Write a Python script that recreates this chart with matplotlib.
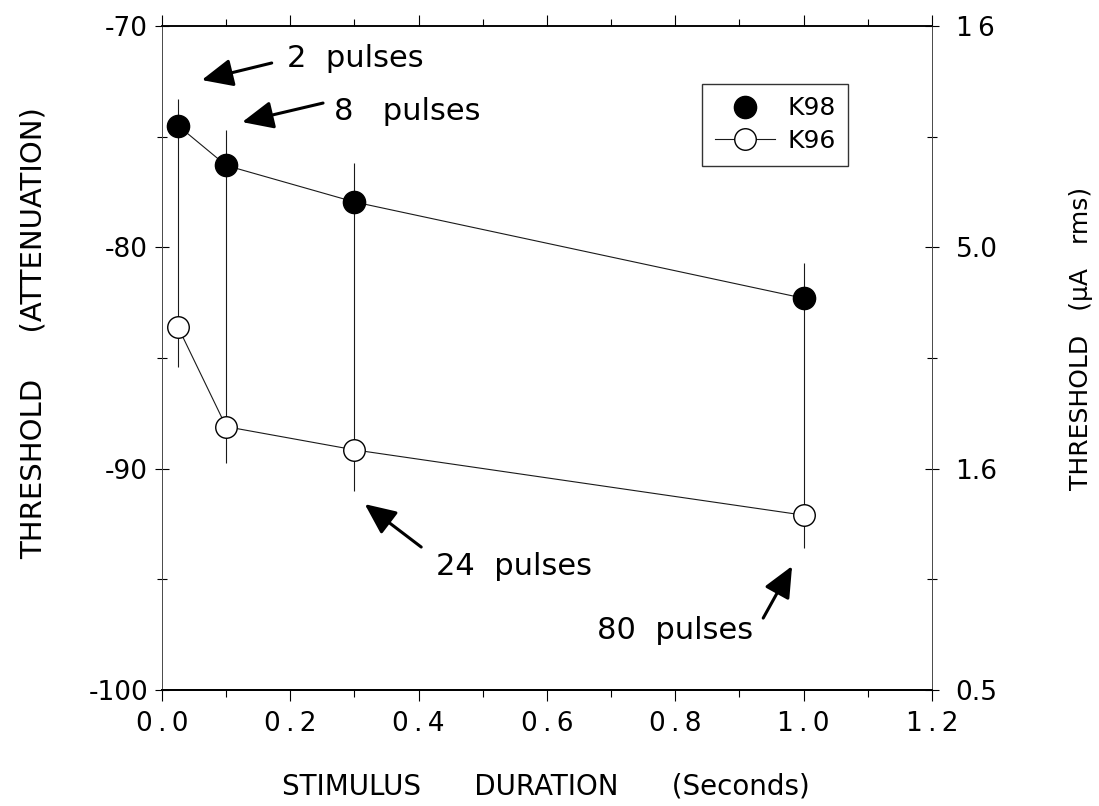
import numpy as np
import matplotlib
matplotlib.use('Agg')
import matplotlib.pyplot as plt
from matplotlib import rcParams
from matplotlib.lines import Line2D
from matplotlib.ticker import MultipleLocator

rcParams['font.family'] = ['DejaVu Sans']
rcParams['font.size'] = 19
rcParams['axes.unicode_minus'] = False

# data
duration = [0.025, 0.1, 0.3, 1.0]
k98 = [-74.5, -76.3, -77.95, -82.3]
k96 = [-83.6, -88.1, -89.15, -92.1]
bar_top = [-73.3, -74.7, -76.2, -80.7]
bar_bottom = [-85.4, -89.75, -91.0, -93.6]

left_ticks = [-100, -90, -80, -70]
right_labels = ['0.5', '1.6', '5.0', '1\u20096']
x_ticks = [0.0, 0.2, 0.4, 0.6, 0.8, 1.0, 1.2]
x_labels = ['0\u2009.\u20090', '0\u2009.\u20092', '0\u2009.\u20094', '0\u2009.\u20096',
            '0\u2009.\u20098', '1\u2009.\u20090', '1\u2009.\u20092']

pulse_labels = ['2  pulses', '8   pulses', '24  pulses', '80  pulses']
label_xy = [(0.301, -71.45), (0.383, -73.84), (0.549, -94.4), (0.799, -97.3)]
arrow_tail = [(0.171, -71.67), (0.251, -73.48), (0.404, -93.54), (0.937, -96.75)]
arrow_head = [(0.062, -72.44), (0.125, -74.34), (0.316, -91.6), (0.982, -94.4)]

fig = plt.figure(figsize=(10.99, 8.06), dpi=100)
ax = fig.add_axes([0.1474, 0.1439, 0.7006, 0.8238])

lw = 0.8
ink = '#1a1a1a'
ax.vlines(duration, bar_bottom, bar_top, color=ink, lw=lw)
ax.plot(duration, k98, '-o', color=ink, lw=lw, ms=16,
        mfc='black', mec='black', zorder=3)
ax.plot(duration, k96, '-o', color=ink, lw=lw, ms=15.5,
        mfc='white', mec='black', mew=1.0, zorder=3)

ax.set_xlim(0, 1.2)
ax.set_ylim(-100, -70)
ax.set_xticks(x_ticks)
ax.set_xticklabels(x_labels)
ax.xaxis.set_minor_locator(MultipleLocator(0.1))
ax.set_yticks(left_ticks)
ax.yaxis.set_minor_locator(MultipleLocator(5))
ax.tick_params(axis='x', which='both', direction='out', width=lw, top=True)
ax.tick_params(axis='x', which='major', length=8, pad=7)
ax.tick_params(axis='x', which='minor', length=5)
ax.tick_params(axis='y', which='both', direction='inout', width=lw)
ax.tick_params(axis='y', which='major', length=10, pad=5)
ax.tick_params(axis='y', which='minor', length=7)

ax2 = ax.twinx()
ax2.set_ylim(-100, -70)
ax2.set_yticks(left_ticks)
ax2.set_yticklabels(right_labels)
ax2.yaxis.set_minor_locator(MultipleLocator(5))
ax2.tick_params(which='both', direction='inout', width=lw)
ax2.tick_params(which='major', length=10, pad=12)
ax2.tick_params(which='minor', length=7)

for a in (ax, ax2):
    a.spines['top'].set_linewidth(1.1)
    a.spines['bottom'].set_linewidth(1.3)
    a.spines['left'].set_linewidth(0.7)
    a.spines['left'].set_color('0.3')
    a.spines['right'].set_linewidth(0.7)
    a.spines['right'].set_color('0.3')

ax.set_xlabel('STIMULUS      DURATION      (Seconds)', fontsize=20)
ax.xaxis.set_label_coords(0.499, -0.124)
ax.set_ylabel('THRESHOLD     (ATTENUATION)', fontsize=21)
ax.yaxis.set_label_coords(-0.149, 0.538)
ax2.set_ylabel('THRESHOLD   (\u00b5A   rms)', fontsize=18)
ax2.yaxis.set_label_coords(1.178, 0.53)

for txt, xy, tail, head in zip(pulse_labels, label_xy, arrow_tail, arrow_head):
    ax.text(xy[0], xy[1], txt, ha='center', va='center', fontsize=22)
    ax.annotate('', xy=head, xytext=tail,
                arrowprops=dict(arrowstyle='-|>,head_length=1.0,head_width=0.45',
                                color='black', lw=2.2, shrinkA=0, shrinkB=0))

handles = [Line2D([], [], ls='none', marker='o', ms=16, mfc='black', mec='black'),
           Line2D([], [], ls='-', color=ink, lw=lw, marker='o', ms=15.5,
                  mfc='white', mec='black')]
leg = ax.legend(handles, ['K98', 'K96'], loc='upper right',
                bbox_to_anchor=(0.891, 0.913), borderaxespad=0, fontsize=18,
                frameon=True, fancybox=False, edgecolor='black',
                handlelength=2.4, handletextpad=0.5, borderpad=0.5,
                labelspacing=0.35)
leg.get_frame().set_linewidth(1.0)

fig.savefig('out.png', dpi=100)
